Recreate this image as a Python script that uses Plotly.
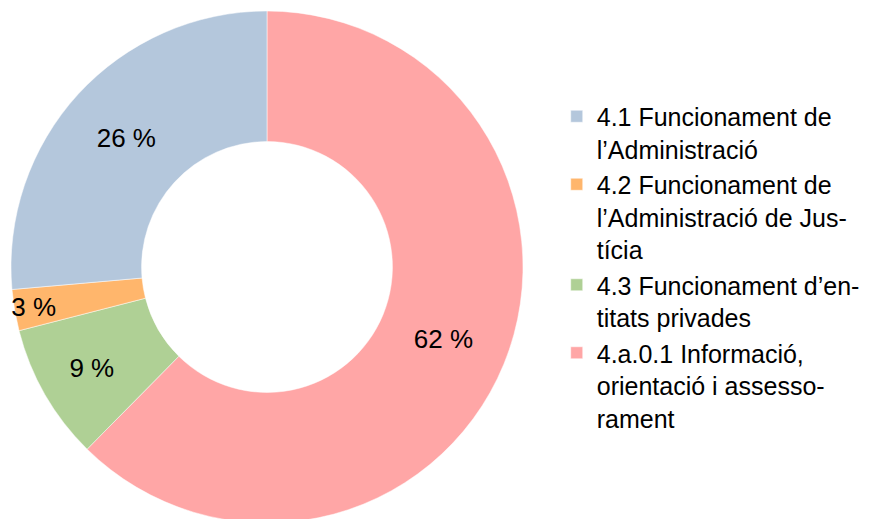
import plotly.graph_objects as go

# slices, clockwise from 12 o'clock (legend shown in reverse)
labels = [
    "4.a.0.1 Informació,<br>orientació i assesso-<br>rament",
    "4.3 Funcionament d’en-<br>titats privades",
    "4.2 Funcionament de<br>l’Administració de Jus-<br>tícia",
    "4.1 Funcionament de<br>l’Administració",
]
values = [62.4, 8.6, 2.6, 26.4]
pct_labels = ["62 %", "9 %", "3 %", "26 %"]
colors = ["#ffa6a6", "#afd095", "#ffb66c", "#b4c7dc"]

fig = go.Figure()

fig.add_trace(
    go.Pie(
        labels=labels,
        values=values,
        text=pct_labels,
        texttemplate="%{text}",
        textposition="inside",
        insidetextorientation="horizontal",
        textfont=dict(color="black", size=26),
        marker=dict(colors=colors, line=dict(color="white", width=0.5)),
        hole=0.49,
        sort=False,
        direction="clockwise",
        rotation=0,
        domain=dict(x=[0.0034, 0.5913], y=[0, 1]),
        hoverinfo="label+percent",
    )
)

# page body adds an 8px offset, so everything is nudged up/left
fig.update_layout(
    width=871,
    height=519,
    margin=dict(l=0, r=0, t=3, b=4),
    paper_bgcolor="white",
    plot_bgcolor="white",
    font=dict(family="Liberation Sans, Arial, sans-serif", size=25, color="black"),
    uniformtext=dict(minsize=26, mode="show"),
    legend=dict(
        x=0.630,
        y=0.5,
        xanchor="left",
        yanchor="middle",
        valign="top",
        traceorder="reversed",
        font=dict(size=25),
        itemwidth=30,
    ),
    showlegend=True,
)

fig.write_html("out.html")
